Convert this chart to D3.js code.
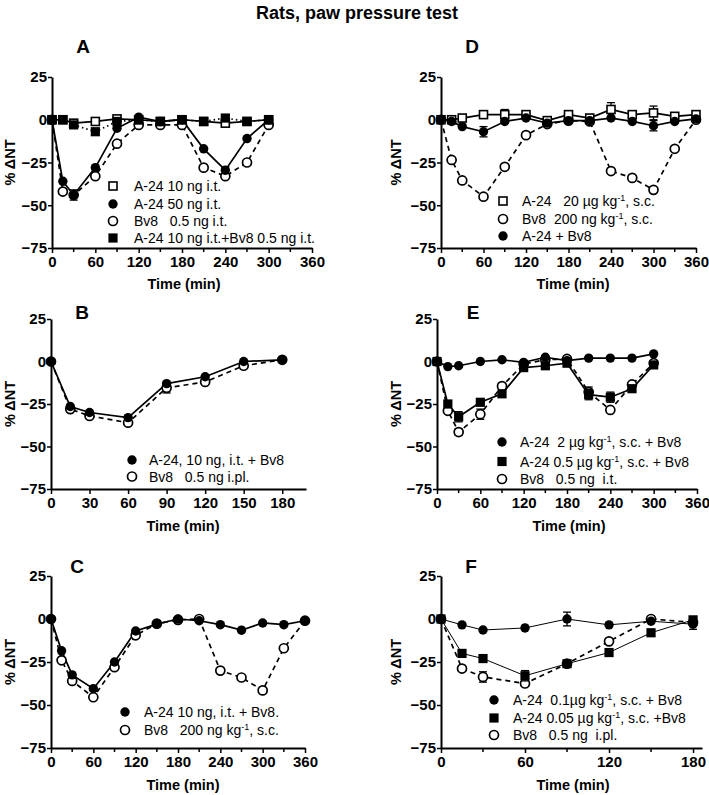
<!DOCTYPE html>
<html><head><meta charset="utf-8">
<script src="https://cdn.jsdelivr.net/npm/d3@7/dist/d3.min.js"></script>
<style>
body{margin:0;background:#fff}
text{font-family:"Liberation Sans",Arial,sans-serif;fill:#000}
</style>
</head><body>
<svg id="c" width="709" height="795"></svg>
<script>
// ---------- DATA ----------
const titleText = "Rats, paw pressure test";
const yTicks = [25, 0, -25, -50, -75];
const yLabel = "% ΔNT";
const xLabel = "Time (min)";

// Panel A
const timesA = [0,15,30,60,90,120,150,180,210,240,270,300];
const A_a24_10 = [0,0,-2,-1,0.5,0,-1,0,-1,-2,-1,0];
const A_a24_50 = [0,-36,-44,-28,-5,1.5,-1,0,-17,-29.5,-11,0];
const A_bv8 = [0,-42,-44,-33,-14,-3,-3,-3,-28,-33,-25,-3];
const A_combo = [0,0,-3,-7,-1,0,-1,0,-1,1,-1,0];
const A_a24_50_err = [0,0,3,0,0,0,0,0,0,2,0,0];
const A_labels = ["A-24 10 ng i.t.","A-24 50 ng i.t.","Bv8   0.5 ng i.t.","A-24 10 ng i.t.+Bv8 0.5 ng i.t."];
const A_xticks = [0,60,120,180,240,300,360];

// Panel D
const timesD = [0,15,30,60,90,120,150,180,210,240,270,300,330,360];
const D_a24 = [0,0,1,3,3,3,-0.5,3,1,6,3,4,2,3];
const D_a24_err = [0,0,0,1,3,1,0,1,0,4,0,4,0,0];
const D_bv8 = [0,-23.5,-35.5,-45,-27.5,-9,-2.5,-0.5,-1,-30,-34,-41,-17,0];
const D_combo = [0,-1,-4,-7,-1,1,-2,-0.5,-0.5,1,-1,-3.5,-1,0.5];
const D_combo_err = [0,0,0,3,0,0,0,0,0,0,0,3,0,0];
const D_labels = ["A-24   20 µg kg^-1, s.c.","Bv8  200 ng kg^-1, s.c.","A-24 + Bv8"];
const D_xticks = [0,60,120,180,240,300,360];

// Panel B
const timesB = [0,15,30,60,90,120,150,180];
const B_combo = [0,-26.5,-30,-33,-13,-9,0,1];
const B_bv8 = [0,-28,-32,-36,-15.5,-12,-2.5,1];
const B_bv8_err = [0,0,0,0,3,0,0,0];
const B_labels = ["A-24, 10 ng, i.t. + Bv8","Bv8   0.5 ng i.pl."];
const B_xticks = [0,30,60,90,120,150,180];

// Panel E
const timesE = [0,15,30,60,90,120,150,180,210,240,270,300];
const E_a24_2 = [0,-3,-2.5,0,1,-0.5,2.5,0.5,2,2,2,4.5];
const E_a24_05 = [0,-25,-32.5,-24,-19,-3.6,-2.5,-1,-19.5,-21,-16,-2];
const E_a24_05_err = [0,0,3,0,0,0,0,0,3,3,0,0];
const E_bv8 = [0,-29,-41.5,-31,-14.5,-1.5,1,1.5,-18,-28.5,-13.5,-1];
const E_bv8_err = [0,0,2,3,0,0,0,0,3,0,0,0];
const E_labels = ["A-24  2 µg kg^-1, s.c. + Bv8","A-24 0.5 µg kg^-1, s.c. + Bv8","Bv8   0.5 ng  i.t."];
const E_xticks = [0,60,120,180,240,300,360];

// Panel C
const timesC = [0,15,30,60,90,120,150,180,210,240,270,300,330,360];
const C_combo = [0,-18.5,-32.5,-40.5,-25,-7,-3,0,-1,-3.3,-6.5,-2.3,-3.3,-1];
const C_bv8 = [0,-24,-36,-45.5,-28,-9.5,-2.7,-0.5,0,-30,-34,-41.5,-17,-1];
const C_labels = ["A-24 10 ng, i.t. + Bv8.","Bv8   200 ng kg^-1, s.c."];
const C_xticks = [0,60,120,180,240,300,360];

// Panel F
const timesF = [0,15,30,60,90,120,150,180];
const F_a24_01 = [0,-3.4,-6.4,-5.2,0,-3.4,-1.3,-3];
const F_a24_01_err = [0,0,0,0,4,0,0,3];
const F_a24_005 = [0,-20,-23,-33,-26,-19.5,-8,-0.5];
const F_a24_005_err = [0,0,2,3,0,0,0,0];
const F_bv8 = [0,-28.8,-33.7,-37.5,-26,-13,0,-2];
const F_bv8_err = [0,0,3,0,0,0,0,0];
const F_labels = ["A-24  0.1µg kg^-1, s.c. + Bv8","A-24 0.05 µg kg^-1, s.c. +Bv8","Bv8   0.5 ng  i.pl."];
const F_xticks = [0,60,120,180];

// ---------- LAYOUT ----------
const panels = [
  {letter:"A", lx:83, ly:53, x0:52, x1:312, yT:77, yB:248, xd:[0,360], xt:A_xticks, minor:[30,90,150,210,270,330], ylx:10, xlY:289,
   series:[
     {t:timesA, v:A_bv8, m:"ci-o", dash:"5,4"},
     {t:timesA, v:A_a24_10, m:"sq-o", dash:null},
     {t:timesA, v:A_combo, m:"sq-f", dash:"1.5,3"},
     {t:timesA, v:A_a24_50, e:A_a24_50_err, m:"ci-f", dash:null}],
   legend:{mx:113, tx:134, ys:[186,204,221,238], items:[["sq-o",A_labels[0]],["ci-f",A_labels[1]],["ci-o",A_labels[2]],["sq-f",A_labels[3]]]}},
  {letter:"D", lx:472, ly:53, x0:441, x1:696, yT:77, yB:248, xd:[0,360], xt:D_xticks, minor:[30,90,150,210,270,330], ylx:396, xlY:289,
   series:[
     {t:timesD, v:D_bv8, m:"ci-o", dash:"5,4"},
     {t:timesD, v:D_a24, e:D_a24_err, m:"sq-o", dash:null},
     {t:timesD, v:D_combo, e:D_combo_err, m:"ci-f", dash:null}],
   legend:{mx:503, tx:522, ys:[201,219,236], items:[["sq-o",D_labels[0]],["ci-o",D_labels[1]],["ci-f",D_labels[2]]]}},
  {letter:"B", lx:82, ly:319, x0:51, x1:306, yT:319, yB:489, xd:[0,198.5], xt:B_xticks, minor:[], ylx:10, xlY:531,
   series:[
     {t:timesB, v:B_bv8, e:B_bv8_err, m:"ci-o", dash:"5,4"},
     {t:timesB, v:B_combo, m:"ci-f", dash:null}],
   legend:{mx:132, tx:149, ys:[460,476.5], items:[["ci-f",B_labels[0]],["ci-o",B_labels[1]]]}},
  {letter:"E", lx:473, ly:319, x0:437, x1:697, yT:319, yB:489, xd:[0,360], xt:E_xticks, minor:[30,90,150,210,270,330], ylx:396, xlY:531,
   series:[
     {t:timesE, v:E_bv8, e:E_bv8_err, m:"ci-o", dash:"5,4"},
     {t:timesE, v:E_a24_05, e:E_a24_05_err, m:"sq-f", dash:null},
     {t:timesE, v:E_a24_2, m:"ci-f", dash:null}],
   legend:{mx:502, tx:520, ys:[442,461.5,479], items:[["ci-f",E_labels[0]],["sq-f",E_labels[1]],["ci-o",E_labels[2]]]}},
  {letter:"C", lx:77, ly:573, x0:51, x1:305, yT:576, yB:748, xd:[0,360], xt:C_xticks, minor:[30,90,150,210,270,330], ylx:10, xlY:790,
   series:[
     {t:timesC, v:C_bv8, m:"ci-o", dash:"5,4"},
     {t:timesC, v:C_combo, m:"ci-f", dash:null}],
   legend:{mx:125, tx:144, ys:[712,730], items:[["ci-f",C_labels[0]],["ci-o",C_labels[1]]]}},
  {letter:"F", lx:471, ly:573, x0:441, x1:702, yT:576, yB:748, xd:[0,186.4], xt:F_xticks, minor:[30,90,150], ylx:396, xlY:790,
   series:[
     {t:timesF, v:F_bv8, e:F_bv8_err, m:"ci-o", dash:"5,4"},
     {t:timesF, v:F_a24_005, e:F_a24_005_err, m:"sq-f", dash:null, thin:true},
     {t:timesF, v:F_a24_01, e:F_a24_01_err, m:"ci-f", dash:null, thin:true}],
   legend:{mx:494, tx:513, ys:[700,718,735], items:[["ci-f",F_labels[0]],["sq-f",F_labels[1]],["ci-o",F_labels[2]]]}}
];

// ---------- DRAW ----------
const svg = d3.select("#c");
svg.append("text").attr("x", 357).attr("y", 19).attr("text-anchor","middle")
  .attr("font-size", 18).attr("font-weight","bold").text(titleText);

function drawMarker(g, type, x, y) {
  if (type === "ci-f") g.append("circle").attr("cx",x).attr("cy",y).attr("r",4.7).attr("fill","#000");
  else if (type === "ci-o") g.append("circle").attr("cx",x).attr("cy",y).attr("r",4.5).attr("fill","#fff").attr("stroke","#000").attr("stroke-width",1.7);
  else if (type === "sq-f") g.append("rect").attr("x",x-4.6).attr("y",y-4.6).attr("width",9.2).attr("height",9.2).attr("fill","#000");
  else if (type === "sq-o") g.append("rect").attr("x",x-4).attr("y",y-4).attr("width",8).attr("height",8).attr("fill","#fff").attr("stroke","#000").attr("stroke-width",1.6);
}

function addLabel(sel, str) {
  const parts = str.split("^-1");
  sel.append("tspan").text(parts[0]);
  if (parts.length > 1) {
    sel.append("tspan").attr("dy", -5).attr("font-size", 9).text("-1");
    sel.append("tspan").attr("dy", 5).text(parts[1]);
  }
}

panels.forEach(p => {
  const x = d3.scaleLinear().domain(p.xd).range([p.x0, p.x1]);
  const y = d3.scaleLinear().domain([25, -75]).range([p.yT, p.yB]);
  const g = svg.append("g");

  const ya = g.append("g").attr("transform", `translate(${p.x0},0)`)
    .call(d3.axisLeft(y).tickValues(yTicks).tickSize(4).tickPadding(1).tickSizeOuter(0));
  const xa = g.append("g").attr("transform", `translate(0,${p.yB})`)
    .call(d3.axisBottom(x).tickValues(p.xt).tickSize(5).tickPadding(3).tickSizeOuter(0));
  [ya, xa].forEach(a => {
    a.select(".domain").attr("stroke-width", 2);
    a.selectAll(".tick line").attr("stroke-width", 1.5);
    a.selectAll(".tick text").attr("font-size", 15).attr("font-weight","bold")
      .attr("font-family", '"Liberation Sans",Arial,sans-serif').attr("fill","#000");
  });
  xa.selectAll(".minor").data(p.minor).enter().append("line").attr("class","minor")
    .attr("x1", d => x(d)).attr("x2", d => x(d)).attr("y1", 0).attr("y2", 4)
    .attr("stroke","#000").attr("stroke-width",1.5);

  g.append("text").attr("x", p.x0 + 132).attr("y", p.xlY).attr("text-anchor","middle")
    .attr("font-size", 14.5).attr("font-weight","bold").text(xLabel);
  g.append("text").attr("transform", `translate(${p.ylx + 5},${(p.yT + p.yB) / 2}) rotate(-90)`)
    .attr("text-anchor","middle").attr("font-size", 14.5).attr("font-weight","bold").text(yLabel);
  g.append("text").attr("x", p.lx).attr("y", p.ly).attr("text-anchor","middle")
    .attr("font-size", 19).attr("font-weight","bold").text(p.letter);

  p.series.forEach(s => {
    const pts = s.t.map((t, i) => [t, s.v[i]]);
    const line = d3.line().x(d => x(d[0])).y(d => y(d[1]));
    g.append("path").attr("d", line(pts)).attr("fill","none").attr("stroke","#000")
      .attr("stroke-width", s.thin ? 1 : 1.7)
      .attr("stroke-dasharray", s.dash);
  });
  p.series.forEach(s => {
    s.t.forEach((t, i) => {
      const e = s.e ? s.e[i] : 0;
      if (e > 0) {
        const cx = x(t), y1 = y(s.v[i] + e), y2 = y(s.v[i] - e);
        g.append("line").attr("x1",cx).attr("x2",cx).attr("y1",y1).attr("y2",y2).attr("stroke","#000").attr("stroke-width",1.3);
        [y1, y2].forEach(yy => g.append("line").attr("x1",cx-4).attr("x2",cx+4).attr("y1",yy).attr("y2",yy).attr("stroke","#000").attr("stroke-width",1.3));
      }
      drawMarker(g, s.m, x(t), y(s.v[i]));
    });
  });

  p.legend.items.forEach((it, k) => {
    const yy = p.legend.ys[k];
    drawMarker(g, it[0], p.legend.mx, yy);
    const tx = g.append("text").attr("x", p.legend.tx).attr("y", yy + 5)
      .attr("font-size", 14).style("white-space","pre");
    addLabel(tx, it[1]);
  });
});
</script>
</body></html>
